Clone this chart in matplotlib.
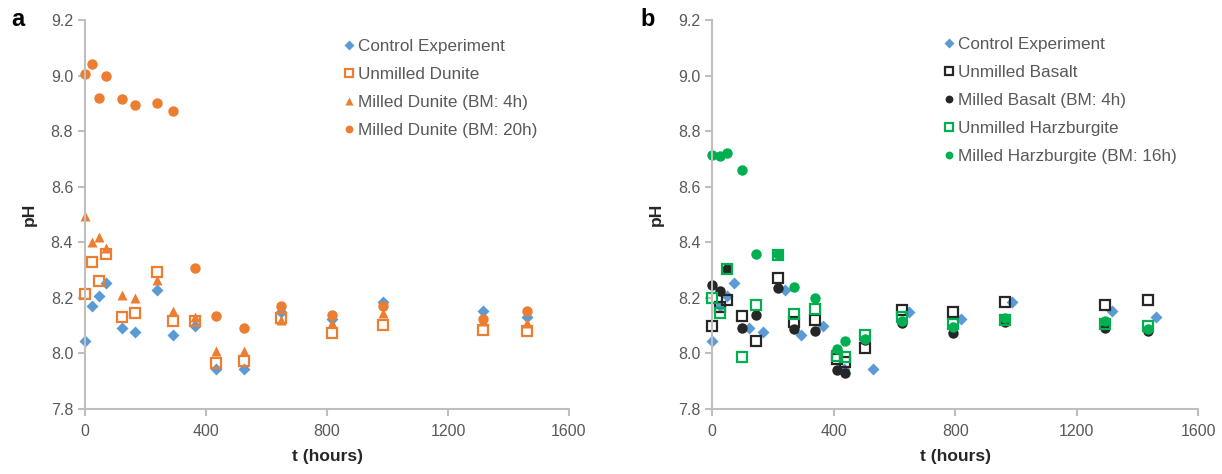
import matplotlib.pyplot as plt
from matplotlib.ticker import FormatStrFormatter

# panel a - times shared by all series (hours)
t_a = [0, 22, 47, 69, 121, 165, 237, 290, 363, 434, 525, 647, 818, 985, 1316, 1461]
control_a = [8.045, 8.17, 8.207, 8.255, 8.093, 8.077, 8.23, 8.065, 8.098, 7.944, 7.945, 8.15, 8.125, 8.185, 8.152, 8.131]
unmilled_dunite = [8.214, 8.33, 8.26, 8.357, 8.13, 8.145, 8.293, 8.116, 8.115, 7.967, 7.973, 8.126, 8.075, 8.103, 8.084, 8.08]
milled_dunite_4h = [8.496, 8.40, 8.42, 8.38, 8.21, 8.20, 8.265, 8.153, 8.13, 8.01, 8.01, 8.12, 8.11, 8.145, 8.115, 8.11]
milled_dunite_20h = [9.007, 9.04, 8.92, 9.00, 8.915, 8.895, 8.90, 8.873, 8.307, 8.134, 8.093, 8.171, 8.139, 8.169, 8.124, 8.153]

# panel b
t_ctrl_b = [0, 24, 50, 72, 122, 168, 240, 293, 365, 434, 528, 648, 818, 988, 1317, 1462]
t_b = [0, 24, 50, 98, 144, 216, 268, 338, 412, 438, 504, 624, 792, 965, 1292, 1436]
unmilled_basalt = [8.10, 8.166, 8.192, 8.136, 8.043, 8.272, 8.114, 8.12, 7.98, 7.97, 8.019, 8.156, 8.15, 8.184, 8.175, 8.192]
milled_basalt = [8.246, 8.223, 8.304, 8.091, 8.137, 8.234, 8.088, 8.081, 7.94, 7.931, 8.05, 8.108, 8.073, 8.112, 8.09, 8.08]
unmilled_harz = [8.20, 8.144, 8.304, 7.988, 8.174, 8.355, 8.142, 8.16, 7.989, 7.986, 8.066, 8.13, 8.106, 8.12, 8.106, 8.097]
milled_harz = [8.715, 8.71, 8.72, 8.66, 8.357, 8.359, 8.24, 8.198, 8.015, 8.043, 8.052, 8.117, 8.094, 8.126, 8.117, 8.088]

BLUE = "#5B9BD5"
ORANGE = "#ED7D31"
GREEN = "#00B050"
BLACK = "#262626"
GRAY = "#595959"
AXIS = "#BFBFBF"

plt.rcParams['font.family'] = ['Liberation Sans', 'DejaVu Sans']

fig = plt.figure(figsize=(12.22, 4.74), dpi=100)
ax1 = fig.add_axes([85/1222, 65/474, 484/1222, 389/474])
ax2 = fig.add_axes([712.3/1222, 65/474, 485.7/1222, 389/474])


def style(ax):
    ax.set_xlim(0, 1600)
    ax.set_ylim(7.8, 9.2)
    ax.set_xticks([0, 400, 800, 1200, 1600])
    ax.set_yticks([7.8, 8.0, 8.2, 8.4, 8.6, 8.8, 9.0, 9.2])
    ax.yaxis.set_major_formatter(FormatStrFormatter('%.1f'))
    for s in ['top', 'right']:
        ax.spines[s].set_visible(False)
    for s in ['left', 'bottom']:
        ax.spines[s].set_color(AXIS)
        ax.spines[s].set_linewidth(1.5)
    ax.tick_params(axis='both', colors=AXIS, labelcolor=GRAY, labelsize=11.5,
                   length=5, width=1.5, direction='out')
    ax.tick_params(axis='x', pad=6)
    ax.set_xlabel('t (hours)', fontsize=12.5, fontweight='bold', color=BLACK, labelpad=7)
    ax.set_ylabel('pH', fontsize=12.5, fontweight='bold', color=BLACK, labelpad=10)


ms = 7.5
kw = dict(clip_on=False, ls='none')
ax1.plot(t_a, control_a, 'D', color=BLUE, ms=6.5, mec='none', label='Control Experiment', **kw)
ax1.plot(t_a, unmilled_dunite, 's', mfc='none', mec=ORANGE, mew=1.6, ms=7, label='Unmilled Dunite', **kw)
ax1.plot(t_a, milled_dunite_4h, '^', color=ORANGE, ms=ms, mec='none', label='Milled Dunite (BM: 4h)', **kw)
ax1.plot(t_a, milled_dunite_20h, 'o', color=ORANGE, ms=ms, mec='none', label='Milled Dunite (BM: 20h)', **kw)
style(ax1)
ax1.legend(loc='upper left', bbox_to_anchor=(0.503, 0.99), frameon=False, fontsize=12.3,
           markerscale=0.75, handlelength=0.6, handletextpad=0.25, labelspacing=0.75,
           labelcolor=GRAY)

ax2.plot(t_ctrl_b, control_a, 'D', color=BLUE, ms=6.5, mec='none', label='Control Experiment', **kw)
ax2.plot(t_b, unmilled_basalt, 's', mfc='none', mec=BLACK, mew=1.6, ms=7, label='Unmilled Basalt', **kw)
ax2.plot(t_b, milled_basalt, 'o', color=BLACK, ms=ms, mec='none', label='Milled Basalt (BM: 4h)', **kw)
ax2.plot(t_b, unmilled_harz, 's', mfc='none', mec=GREEN, mew=1.6, ms=7, label='Unmilled Harzburgite', **kw)
ax2.plot(t_b, milled_harz, 'o', color=GREEN, ms=ms, mec='none', label='Milled Harzburgite (BM: 16h)', **kw)
style(ax2)
ax2.legend(loc='upper left', bbox_to_anchor=(0.445, 0.995), frameon=False, fontsize=12.3,
           markerscale=0.75, handlelength=0.6, handletextpad=0.25, labelspacing=0.75,
           labelcolor=GRAY)

fig.text(18/1222, 1 - 20/474, 'a', fontsize=17, fontweight='bold', va='center', ha='center')
fig.text(648/1222, 1 - 20/474, 'b', fontsize=17, fontweight='bold', va='center', ha='center')

fig.savefig('out.png', dpi=100)
